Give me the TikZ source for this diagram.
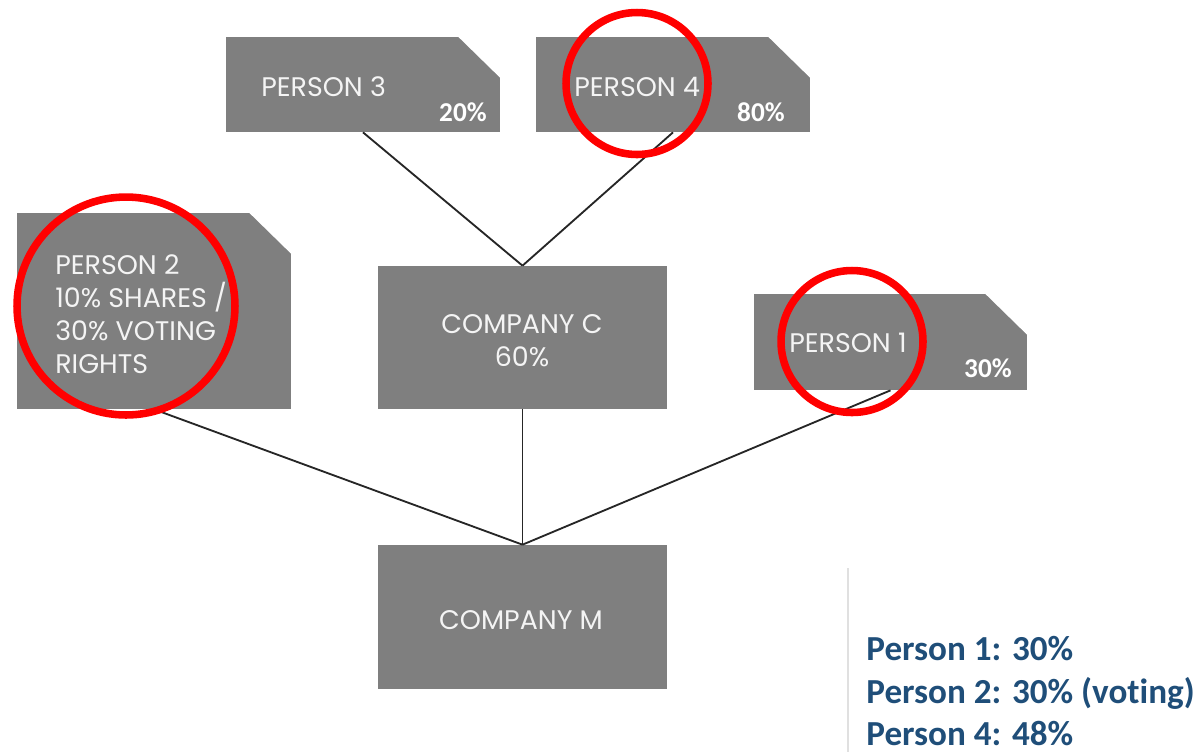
\documentclass[tikz,border=0pt]{standalone}
\usepackage{fontspec}
\setmainfont{Poppins}
\newfontfamily\calfont[Ligatures=NoCommon]{Carlito}
\definecolor{boxgray}{HTML}{7F7F7F}
\definecolor{boxtext}{HTML}{F4F4F4}
\definecolor{legendblue}{HTML}{1F4E79}
\definecolor{markred}{HTML}{FF0000}
\tikzset{
  card/.style = {rectangle, fill = boxgray, inner sep = 0pt},
  boxlabel/.style = {text = boxtext, inner sep = 0pt, font = \fontsize{15.3}{18.8}\selectfont},
  share/.style = {text = white, inner sep = 0pt, anchor = east, font = \calfont\bfseries\fontsize{15.5}{18}\selectfont},
  link/.style = {black!85, line width = 1.05pt},
  ring/.style = {markred, line width = 4.3pt},
  legendline/.style = {anchor = base west, inner sep = 0pt, text = legendblue, font = \calfont\bfseries\fontsize{20}{24}\selectfont}
}
\newcommand{\earcut}[1]{\fill[white] ([xshift=0.5pt, yshift=0.5pt]#1.north east) -- ++(-44, 0) -- ++(44, 43) -- cycle;}
\begin{document}
\begin{tikzpicture}[x = 0.02cm, y = -0.02cm]
    \useasboundingbox (0, 0) rectangle (1202, 752);
    \node [card, minimum width = 5.48cm, minimum height = 1.9cm] (p3) at (363, 84.5) {};
    \node [card, minimum width = 5.48cm, minimum height = 1.9cm] (p4) at (673, 84.5) {};
    \node [card, minimum width = 5.48cm, minimum height = 3.92cm] (p2) at (154, 311) {};
    \node [card, minimum width = 5.46cm, minimum height = 1.92cm] (p1) at (890.5, 342) {};
    \node [card, minimum width = 5.78cm, minimum height = 2.86cm] (cc) at (522.5, 337.5) {};
    \node [card, minimum width = 5.8cm, minimum height = 2.88cm] (cm) at (522.5, 617) {};
    \earcut{p3}
    \earcut{p4}
    \earcut{p2}
    \earcut{p1}
    \draw [link] (p3.south) -- (cc.north);
    \draw [link] (p4.south) -- (cc.north);
    \draw [link] (p2.south) -- (cm.north);
    \draw [link] (cc.south) -- (cm.north);
    \draw [link] (p1.south) -- (cm.north);
    \node [boxlabel, anchor = west] (p3name) at (261, 87) {PERSON 3};
    \node [share] (p3share) at (487, 112) {20\%};
    \node [boxlabel, anchor = west] (p4name) at (574, 87) {PERSON 4};
    \node [share] (p4share) at (785, 112) {80\%};
    \node [boxlabel, anchor = west, align = left] (p2name) at (55, 314) {PERSON 2\\10\% SHARES /\\30\% VOTING\\RIGHTS};
    \node [boxlabel, anchor = west] (p1name) at (789, 343) {PERSON 1};
    \node [share] (p1share) at (1012, 368) {30\%};
    \node [boxlabel, align = center] (ccname) at (522, 341) {COMPANY C\\60\%};
    \node [boxlabel] (cmname) at (521, 620) {COMPANY M};
    \draw [ring] (637, 83.5) circle (1.42cm);
    \draw [ring] (126, 306) circle (2.18cm);
    \draw [ring] (852, 341.5) circle (1.42cm);
    \draw [black!12, line width = 1.5pt] (848, 568) -- (848, 752);
    \node [legendline] (sum1) at (866, 660) {Person 1: 30\%};
    \node [legendline] (sum2) at (866, 703) {Person 2: 30\% (voting)};
    \node [legendline] (sum4) at (866, 745) {Person 4: 48\%};
  \end{tikzpicture}
\end{document}
